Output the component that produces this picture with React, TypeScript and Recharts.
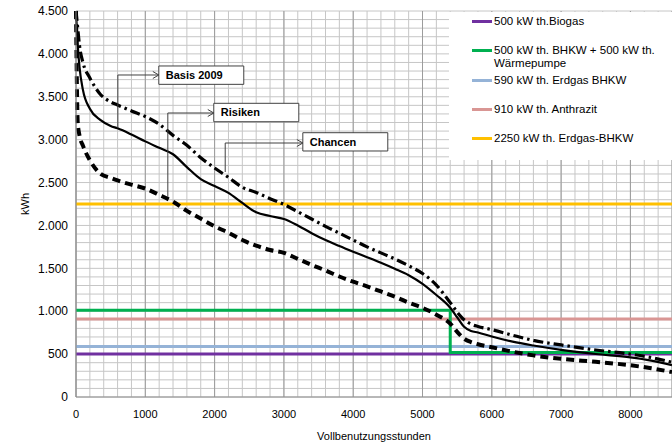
import {
  LineChart,
  Line,
  XAxis,
  YAxis,
  CartesianGrid,
  Legend,
  ReferenceArea,
  ReferenceLine,
  ReferenceDot,
} from 'recharts';

// Jahresdauerlinie: Stunden und Wärmebedarf (kWh) der drei Szenarien
const hours = [0, 25, 50, 100, 200, 350, 500, 600, 800, 1000, 1200, 1400, 1600, 1800, 2000, 2200, 2400, 2600, 2800, 3000, 3200, 3400, 3600, 3800, 4000, 4200, 4400, 4600, 4800, 5000, 5200, 5400, 5500, 5600, 5700, 5800, 6000, 6300, 6600, 7000, 7500, 8000, 8300, 8600];
const basis2009 = [4500, 4100, 3850, 3580, 3360, 3230, 3160, 3132, 3060, 2980, 2905, 2830, 2680, 2540, 2460, 2380, 2262, 2153, 2110, 2075, 2000, 1910, 1830, 1760, 1694, 1630, 1565, 1495, 1420, 1320, 1189, 1040, 930, 820, 770, 752, 705, 645, 600, 550, 501, 462, 425, 372];
const chancen = [4500, 4300, 4100, 3900, 3720, 3530, 3440, 3404, 3335, 3270, 3180, 3050, 2935, 2790, 2670, 2560, 2445, 2385, 2312, 2245, 2160, 2075, 1990, 1910, 1830, 1750, 1680, 1610, 1530, 1440, 1305, 1100, 990, 900, 850, 822, 785, 720, 660, 607, 548, 500, 460, 405];
const risiken = [4500, 3200, 3050, 2930, 2760, 2605, 2555, 2525, 2475, 2430, 2357, 2277, 2170, 2080, 1990, 1915, 1830, 1765, 1714, 1680, 1610, 1540, 1475, 1405, 1344, 1290, 1230, 1170, 1100, 1040, 960, 855, 760, 680, 640, 615, 580, 528, 485, 445, 410, 370, 335, 290];

// Leistungsstufen der Anlagenvarianten
const levelHours = [0, 8600];
const biogas = [500, 500];
const erdgasBhkw590 = [590, 590];
const anthrazit = [910, 910];
const erdgasBhkw2250 = [2250, 2250];
const bhkwWpHours = [0, 5400, 5400, 8600];
const bhkwWp = [1010, 1010, 520, 520];

const X_MAX = 8600;
const Y_MAX = 4500;
const xTicks = [0, 1000, 2000, 3000, 4000, 5000, 6000, 7000, 8000];
const yTicks = [0, 500, 1000, 1500, 2000, 2500, 3000, 3500, 4000, 4500];
const minorXTicks = Array.from({ length: 44 }, (_, i) => i * 200);
const minorYTicks = Array.from({ length: 46 }, (_, i) => i * 100);

const legendNames = [
  '500 kW th.Biogas',
  '500 kW th. BHKW + 500 kW th. Wärmepumpe',
  '590 kW th. Erdgas BHKW',
  '910 kW th. Anthrazit',
  '2250 kW th. Erdgas-BHKW',
];
const legendColors = ['#7030A0', '#00B050', '#95B3D7', '#D99694', '#FFC000'];
const legendTops = [3, 31.5, 61.5, 90.5, 119.5];

const curveData = hours.map((h, i) => ({
  h,
  basis: basis2009[i],
  chancen: chancen[i],
  risiken: risiken[i],
}));
const toPoints = (xs: number[], ys: number[]) => xs.map((h, i) => ({ h, v: ys[i] }));

// Beschriftungen mit Hinweislinien (Datenkoordinaten)
const notes = [
  { label: 'Basis 2009', x1: 1195, x2: 2421, y1: 3645, y2: 3859, footX: 604, footY: 3136, elbowY: 3754 },
  { label: 'Risiken', x1: 1988, x2: 3215, y1: 3209, y2: 3424, footX: 1325, footY: 2332, elbowY: 3311 },
  { label: 'Chancen', x1: 3273, x2: 4499, y1: 2868, y2: 3081, footX: 2153, footY: 2623, elbowY: 2961 },
];

const formatDe = (v: number) => String(v).replace(/\B(?=(\d{3})+(?!\d))/g, '.');

// feines Raster: über die Achsenskala, sonst linear aus der Plotfläche
const minorVertical = ({ xAxis, offset }: any) =>
  minorXTicks.map((t) =>
    xAxis && typeof xAxis.scale === 'function' ? xAxis.scale(t) : offset.left + (t / X_MAX) * offset.width,
  );
const minorHorizontal = ({ yAxis, offset }: any) =>
  minorYTicks.map((t) =>
    yAxis && typeof yAxis.scale === 'function' ? yAxis.scale(t) : offset.top + offset.height - (t / Y_MAX) * offset.height,
  );

const Arrow = (props: any) => {
  const { cx, cy } = props;
  return (
    <path
      d={`M${cx - 6},${cy - 3.5}L${cx},${cy}L${cx - 6},${cy + 3.5}`}
      fill="none"
      stroke="#404040"
      strokeWidth={1}
    />
  );
};

const LegendBox = () => (
  <div style={{ position: 'relative', width: 223, height: 148, background: '#fff', fontSize: 11.5, color: '#000' }}>
    {legendNames.map((name, i) => (
      <div key={name} style={{ position: 'absolute', left: 23, top: legendTops[i], display: 'flex', alignItems: 'flex-start' }}>
        <div style={{ width: 20, height: 3, background: legendColors[i], marginTop: 5, marginRight: 2 }} />
        <div style={{ width: 170, lineHeight: '13px' }}>{name}</div>
      </div>
    ))}
  </div>
);

export default function App() {
  return (
    <div style={{ position: 'absolute', left: 0, top: 0, fontFamily: '"Liberation Sans", Arial, sans-serif' }}>
      <LineChart width={672} height={443} data={curveData} margin={{ top: 11, right: 0, left: 6, bottom: 0 }}>
        <CartesianGrid
          stroke="#c6c6c6"
          verticalCoordinatesGenerator={minorVertical}
          horizontalCoordinatesGenerator={minorHorizontal}
        />
        <CartesianGrid horizontal={false} stroke="#9c9c9c" />
        <XAxis
          type="number"
          dataKey="h"
          domain={[0, X_MAX]}
          ticks={xTicks}
          height={46}
          tickLine={false}
          tickSize={6}
          tickMargin={7}
          axisLine={{ stroke: '#8c8c8c' }}
          tick={{ fontSize: 11, fill: '#000' }}
          label={{ value: 'Vollbenutzungsstunden', position: 'insideBottom', offset: 3, fontSize: 11, fill: '#000' }}
        />
        <YAxis
          type="number"
          domain={[0, Y_MAX]}
          ticks={yTicks}
          width={70}
          tickLine={false}
          tickFormatter={formatDe}
          axisLine={{ stroke: '#8c8c8c' }}
          tick={{ fontSize: 12, fill: '#000' }}
          label={{ value: 'kWh', angle: -90, position: 'insideLeft', offset: 19, fontSize: 11, fill: '#000', style: { textAnchor: 'middle' } }}
        />
        <Legend
          layout="vertical"
          align="center"
          verticalAlign="middle"
          content={() => <LegendBox />}
          wrapperStyle={{ left: 449, top: 12, width: 223, height: 148 }}
        />
        <Line data={toPoints(levelHours, biogas)} dataKey="v" stroke="#7030A0" strokeWidth={3} dot={false} isAnimationActive={false} legendType="none" />
        <Line data={toPoints(levelHours, erdgasBhkw590)} dataKey="v" stroke="#95B3D7" strokeWidth={3} dot={false} isAnimationActive={false} legendType="none" />
        <Line data={toPoints(levelHours, anthrazit)} dataKey="v" stroke="#D99694" strokeWidth={3} dot={false} isAnimationActive={false} legendType="none" />
        <Line data={toPoints(levelHours, erdgasBhkw2250)} dataKey="v" stroke="#FFC000" strokeWidth={3} dot={false} isAnimationActive={false} legendType="none" />
        <Line data={toPoints(bhkwWpHours, bhkwWp)} dataKey="v" stroke="#00B050" strokeWidth={3} dot={false} isAnimationActive={false} legendType="none" />
        <Line type="monotone" dataKey="risiken" stroke="#000" strokeWidth={4} strokeDasharray="8 5" dot={false} isAnimationActive={false} legendType="none" />
        <Line type="monotone" dataKey="chancen" stroke="#000" strokeWidth={3.2} strokeDasharray="10 4 2.5 4" dot={false} isAnimationActive={false} legendType="none" />
        <Line type="monotone" dataKey="basis" stroke="#000" strokeWidth={2.2} dot={false} isAnimationActive={false} legendType="none" />
        {notes.map((n) => (
          <ReferenceLine key={`v-${n.label}`} segment={[{ x: n.footX, y: n.footY }, { x: n.footX, y: n.elbowY }]} stroke="#404040" strokeWidth={1} />
        ))}
        {notes.map((n) => (
          <ReferenceLine key={`h-${n.label}`} segment={[{ x: n.footX, y: n.elbowY }, { x: n.x1, y: n.elbowY }]} stroke="#404040" strokeWidth={1} />
        ))}
        {notes.map((n) => (
          <ReferenceDot key={`a-${n.label}`} x={n.x1} y={n.elbowY} r={3} shape={Arrow} />
        ))}
        {notes.map((n) => (
          <ReferenceArea
            key={`b-${n.label}`}
            x1={n.x1}
            x2={n.x2}
            y1={n.y1}
            y2={n.y2}
            fill="#fff"
            fillOpacity={1}
            stroke="#404040"
            strokeWidth={1}
            label={{ value: n.label, position: 'insideLeft', offset: 7, fontSize: 11, fontWeight: 'bold', fill: '#000' }}
          />
        ))}
      </LineChart>
    </div>
  );
}
